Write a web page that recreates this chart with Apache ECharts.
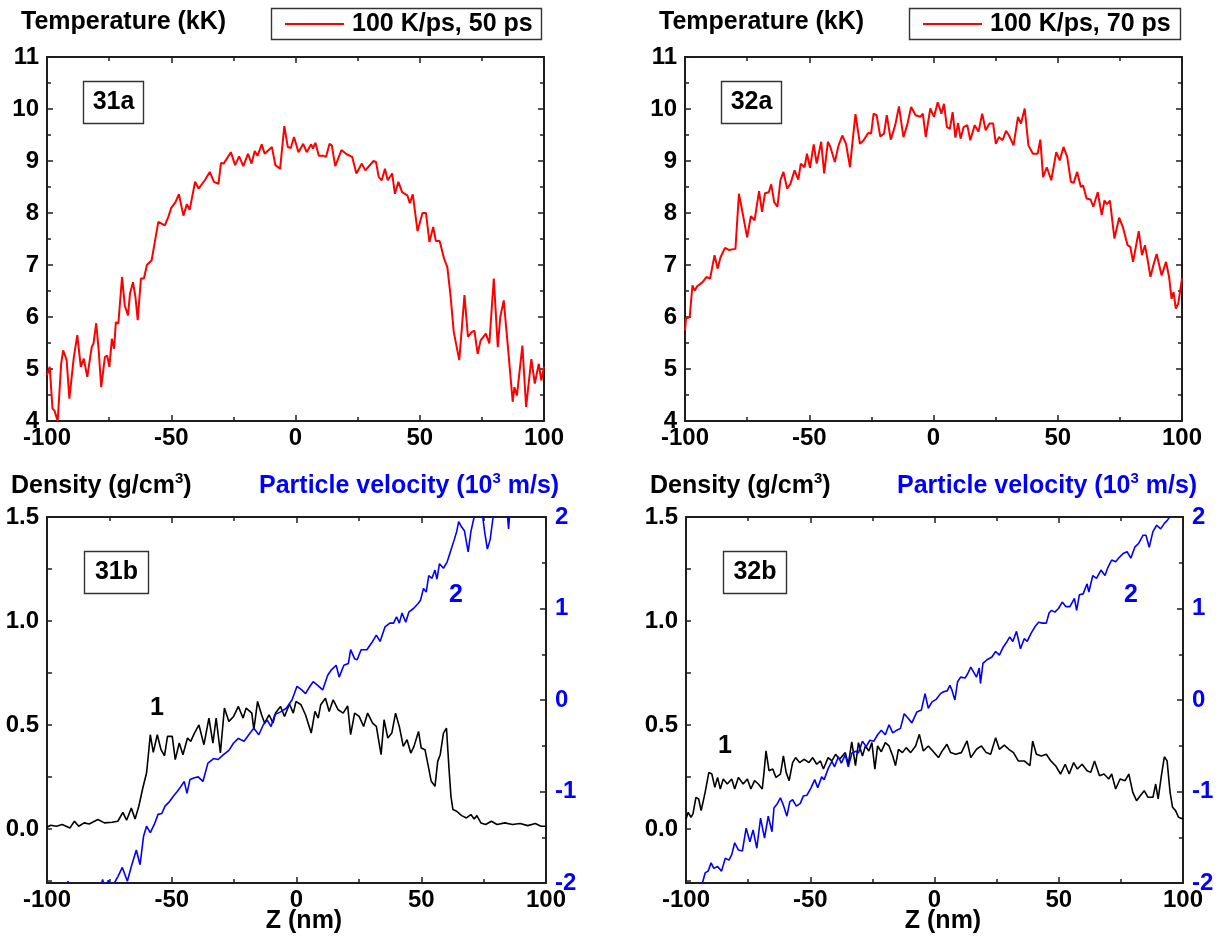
<!DOCTYPE html>
<html><head><meta charset="utf-8">
<script src="https://cdn.jsdelivr.net/npm/echarts@6/dist/echarts.min.js"></script>
<style>html,body{margin:0;padding:0;background:#fff}#c{width:1220px;height:940px}</style>
</head><body><div id="c"></div>
<script>
// ---- Data (Z in nm) ----
const zT31 = [-100,-98.9,-97.8,-97,-95.7,-94.3,-93.5,-92.1,-91,-89.2,-87.8,-86.4,-85.2,-83.8,-82,-81.3,-80.2,-79.2,-78.2,-76.7,-75.8,-74.9,-73.9,-73,-72.3,-71.3,-69.8,-68.7,-67.4,-66.6,-65.4,-64.4,-63.5,-62.2,-61,-59.8,-57.9,-55.2,-52.6,-51.2,-50,-48.3,-46.9,-45.1,-43.7,-42.6,-40.4,-39,-36.5,-34.5,-32.8,-31,-30,-28.9,-26,-24.3,-22.7,-21,-19.1,-17.7,-16.4,-15.3,-13.6,-12.4,-9.5,-8.1,-6.2,-4.5,-3.1,-1.9,-0.6,1.2,3.1,4.5,6.3,7,8,9.4,11.3,12.3,13.7,14.6,16,18.5,20.6,22.8,24.5,26.7,28.1,29.2,31.4,32.4,33.5,34.7,36,37.1,38.9,40,41.4,42.9,45,46,47.2,49.1,51.1,52.5,53.9,55.4,56.5,58,59.8,61.1,62.3,63.7,64.4,65.9,68,69.4,70.9,72,73.3,74.5,76.6,78,79.8,81.4,82.4,83.8,85.3,86.1,87.4,88.1,89.1,91.3,92.8,94.9,96.3,97.9,98.9,100];
const temp31 = [4.88,5.04,4.24,4.2,4.0,5.1,5.36,5.17,4.43,5.23,5.65,5.04,5.2,4.85,5.42,5.49,5.88,5.36,4.65,5.23,5.26,5.04,5.58,5.39,5.9,5.87,6.77,6.22,6.03,6.45,6.67,6.38,5.94,6.74,6.74,7.0,7.09,7.83,7.76,7.92,8.1,8.21,8.36,7.95,8.17,8.06,8.6,8.47,8.63,8.79,8.6,8.56,8.96,8.95,9.17,8.92,9.09,8.9,9.14,8.95,9.19,9.1,9.32,9.14,9.27,8.92,8.85,9.67,9.27,9.25,9.46,9.17,9.33,9.17,9.32,9.24,9.35,9.1,9.1,9.08,9.33,9.3,8.9,9.21,9.13,9.08,8.76,8.95,8.82,8.88,9.0,8.98,8.69,8.63,8.85,8.63,8.76,8.37,8.6,8.4,8.34,8.19,8.36,7.65,8.0,8.0,7.44,7.73,7.46,7.46,7.12,6.96,6.45,5.71,5.68,5.17,6.42,5.62,5.71,5.74,5.29,5.55,5.68,5.49,6.74,5.42,6.0,6.32,5.52,5.49,4.37,4.65,4.49,5.45,4.27,5.19,4.72,5.1,4.78,5.04];

const zT32 = [-100,-99.6,-98.8,-98.1,-97,-96.1,-95.1,-92.9,-91.4,-89.9,-88.1,-86.9,-85.7,-83.9,-82.4,-79.7,-78.3,-76.5,-75,-73.5,-72,-70.2,-69,-67.8,-66.3,-65.3,-64.1,-62.8,-61.6,-60.4,-58.9,-57.6,-55.9,-54.4,-53.4,-51.9,-50.9,-49.7,-48.2,-47,-45.2,-44,-42.5,-41.5,-39.7,-38.2,-36.7,-35.2,-33.6,-32.8,-31.4,-29.6,-28.1,-26.3,-25.1,-24.1,-22.9,-21.4,-19.9,-18.8,-17.2,-15.4,-13.9,-12.1,-10.6,-9,-7.2,-5.3,-4.3,-3.1,-1.3,0.2,1.7,3.2,4.2,5.4,6.6,7.7,8.8,9.9,10.9,12.1,13.6,14.8,16.6,18.1,19.6,21,22.5,24,25.1,26.3,27.8,29.2,30.4,32.2,34,35.2,36.7,38.2,40,41.9,43,44.1,45.6,47.4,49.4,50.8,52.3,53.8,55.3,56.4,57.8,59.3,60.2,61.6,63.2,64.3,66.1,67.7,68.8,69.8,71,72.8,74.7,76.2,78.1,79.2,80.3,82.6,83.9,85.1,86.1,87.3,88.5,89.8,91.8,93.6,94.8,95.8,96.6,97.5,98.5,99.5,100];
const temp32 = [5.74,5.97,5.94,6.0,6.61,6.51,6.59,6.67,6.77,6.74,7.19,6.93,7.15,7.33,7.29,7.31,8.37,7.92,7.53,7.94,7.86,8.42,8.02,8.38,8.4,8.55,8.21,8.12,8.63,8.79,8.47,8.56,8.82,8.64,8.95,8.88,9.14,8.87,9.32,8.95,9.37,8.76,9.37,9.27,8.98,9.3,9.49,9.33,8.88,9.27,9.9,9.33,9.4,9.54,9.53,9.91,9.88,9.47,9.53,9.88,9.41,9.69,10.05,9.46,9.69,10.04,9.88,9.85,9.91,9.46,10.01,9.85,10.13,9.91,10.1,9.65,9.62,9.94,9.45,9.73,9.43,9.65,9.69,9.4,9.69,9.56,9.91,9.59,9.72,9.72,9.33,9.46,9.4,9.58,9.49,9.3,9.85,9.72,10.01,9.3,9.14,9.14,9.41,8.69,8.88,8.63,9.17,9.01,9.27,9.08,8.6,8.58,8.79,8.5,8.53,8.28,8.26,8.12,8.4,7.96,8.24,8.17,8.24,7.51,7.91,7.73,7.38,7.35,7.06,7.65,7.19,7.38,7.12,6.77,7.0,7.21,6.8,7.06,6.77,6.35,6.48,6.16,6.26,6.58,6.74];

const zD31 = [-100,-98.5,-96.2,-93.9,-90.8,-89,-87.3,-85.1,-83.1,-79.6,-77,-73.9,-71.6,-69.6,-68.1,-66.2,-64.7,-63.2,-61.6,-60.1,-59.3,-58.6,-57.4,-55.8,-54.3,-52.9,-51.7,-49.8,-48.6,-47,-45.5,-43.7,-42.4,-40.9,-39.1,-37.1,-35.1,-33.5,-32.2,-30.5,-28.9,-27.1,-25.2,-23.3,-21.4,-20.2,-17.9,-17.1,-15.6,-14,-12.8,-11,-9.4,-8.4,-6.4,-4.8,-2.8,-1.3,-0.2,1.8,3.6,5.9,7.4,8.7,9.7,11.6,13.1,14.7,16.7,18.7,20.5,21.7,23.3,25.1,26.9,28.5,30.5,32,33.9,35.1,36.6,38.2,39.7,41.2,42.8,44.3,45.8,47.1,48.9,50,51.5,52.7,54,55.5,56.6,57.6,58.9,60.1,61.2,61.9,62.7,64.2,66.2,68.1,69.9,71.2,72.3,73.9,75.8,78.1,80.4,83.5,86.5,89.6,92.7,95.7,98,100];
const dens31 = [0.008,0.018,0.013,0.021,0.005,0.037,0.013,0.029,0.024,0.045,0.029,0.032,0.037,0.08,0.042,0.1,0.048,0.109,0.197,0.269,0.365,0.453,0.368,0.453,0.381,0.352,0.445,0.445,0.333,0.413,0.357,0.437,0.421,0.461,0.5,0.405,0.533,0.413,0.533,0.365,0.581,0.517,0.541,0.589,0.533,0.581,0.557,0.477,0.613,0.549,0.509,0.549,0.509,0.557,0.589,0.541,0.601,0.557,0.613,0.597,0.549,0.461,0.565,0.533,0.597,0.628,0.565,0.621,0.573,0.557,0.592,0.453,0.557,0.541,0.493,0.557,0.509,0.493,0.357,0.525,0.437,0.461,0.557,0.493,0.397,0.429,0.365,0.397,0.469,0.389,0.381,0.309,0.229,0.205,0.325,0.357,0.461,0.485,0.277,0.157,0.093,0.085,0.064,0.053,0.069,0.048,0.064,0.029,0.021,0.037,0.021,0.029,0.021,0.026,0.016,0.026,0.013,0.013];

const zV31 = [-100,-93,-91.6,-90.3,-80,-77.7,-76.8,-75.4,-74.2,-73,-71.6,-69.8,-67.8,-66.2,-64.2,-62.7,-61.3,-60.1,-58.6,-57,-55.5,-54,-52.7,-50.9,-49.3,-47.8,-46.7,-45,-43.9,-42.7,-40.9,-39.4,-37.5,-35.5,-33.2,-31.4,-29.4,-27.1,-25.2,-23.3,-21,-18.6,-17.1,-15.1,-13.3,-11.7,-10.2,-8.7,-6.4,-4.1,-1.8,0.2,2.1,3.6,5.4,6.7,8.5,10.5,12.5,14,15.9,17.1,19,20.8,21.7,23.3,24.3,25.9,28.2,30.5,32,33.5,35.5,37.4,38.9,40.1,41.2,42.3,43.8,45,46.9,48.6,49.7,50.9,52,53,54.3,55.5,56.3,57.3,58.9,60.4,61.9,63.2,64.2,65,66.2,67.3,68.8,69.9,71.2,72.4,73.4,74.5,75.4,76.5,77.6,78.8,79.6,82,84.3,85,85.6,90,100];
const vel31 = [-2.4,-2.15,-1.98,-2.2,-2.2,-1.96,-2.08,-1.97,-2.1,-2.0,-1.93,-1.83,-1.98,-1.82,-1.64,-1.8,-1.49,-1.38,-1.45,-1.36,-1.25,-1.24,-1.16,-1.11,-1.05,-1.0,-0.96,-0.89,-1.02,-0.87,-0.85,-0.84,-0.89,-0.69,-0.64,-0.65,-0.6,-0.55,-0.47,-0.42,-0.45,-0.36,-0.31,-0.38,-0.27,-0.22,-0.29,-0.16,-0.13,-0.09,0.0,0.15,0.11,0.07,0.15,0.2,0.16,0.11,0.27,0.33,0.38,0.25,0.38,0.4,0.55,0.45,0.44,0.55,0.55,0.64,0.71,0.64,0.8,0.84,0.84,0.91,0.84,0.95,0.85,0.96,1.0,1.05,1.09,1.22,1.18,1.36,1.33,1.42,1.32,1.49,1.44,1.51,1.64,1.75,1.84,1.95,1.89,1.85,1.62,1.84,2.0,2.05,2.1,2.03,1.84,1.65,1.75,2.0,2.1,2.15,2.1,1.87,2.1,2.3,2.5];

const zD32 = [-100,-99.1,-98,-97.2,-96,-94.9,-93.9,-92.3,-90.8,-89.6,-88.4,-87.3,-86.2,-85,-83.4,-81.6,-80.4,-78.9,-77,-75.3,-73.9,-72.4,-70.9,-69.3,-68.6,-67.8,-66.6,-65.1,-63.8,-62,-60.8,-59.7,-58.5,-57.1,-55.9,-54.3,-52.5,-50.5,-49,-47.4,-45.9,-44.7,-42.8,-41.3,-39.8,-38.2,-35.9,-34.7,-33.3,-31.8,-30.6,-29,-27.8,-26.4,-25.2,-24,-22.9,-21.4,-19.8,-18.3,-16.8,-15.7,-14.5,-12.9,-11.4,-9.6,-7.6,-6.1,-4.5,-2.5,-0.7,1.6,3.1,5,6.5,8.5,10.8,13.1,14.6,16.9,18.9,20.8,22.6,24.6,26.1,28.1,29.9,31.8,33.7,36.1,38.4,39.5,41,43,45,46.8,48.7,50.7,52.6,54.2,56,57.5,59.4,61.4,62.9,64.4,66.4,68.2,70.1,71.3,72.9,74.7,76.7,78.2,79.8,81.3,82.8,84.4,85.9,87.9,89,90,91.3,92.5,93.6,94.8,95.8,97,98.2,100];
const dens32 = [0.048,0.08,0.056,0.072,0.152,0.144,0.088,0.176,0.272,0.264,0.2,0.248,0.192,0.24,0.216,0.24,0.192,0.248,0.216,0.24,0.192,0.232,0.216,0.192,0.272,0.375,0.28,0.288,0.248,0.264,0.351,0.272,0.232,0.319,0.343,0.319,0.335,0.319,0.343,0.311,0.327,0.288,0.343,0.327,0.359,0.335,0.367,0.311,0.419,0.304,0.415,0.351,0.399,0.375,0.415,0.288,0.399,0.371,0.415,0.399,0.351,0.304,0.383,0.367,0.391,0.367,0.399,0.455,0.375,0.399,0.375,0.343,0.375,0.407,0.367,0.359,0.367,0.423,0.343,0.383,0.399,0.367,0.359,0.439,0.383,0.403,0.383,0.367,0.327,0.327,0.304,0.423,0.359,0.351,0.359,0.327,0.304,0.264,0.311,0.264,0.319,0.288,0.311,0.28,0.272,0.327,0.256,0.264,0.24,0.264,0.192,0.24,0.232,0.264,0.176,0.136,0.16,0.184,0.152,0.152,0.216,0.144,0.256,0.347,0.327,0.176,0.104,0.088,0.056,0.048];

const zV32 = [-100,-95,-93.4,-92.3,-91.1,-89.9,-88.8,-87.3,-85.7,-84.2,-82.7,-81.6,-80.4,-78.9,-77.3,-75.8,-74.3,-73,-71.5,-70,-68.4,-66.9,-65.4,-64.6,-63.2,-62,-60.8,-59.4,-58.2,-57.1,-55.6,-54,-52.8,-51.3,-49.7,-48.2,-47,-45.4,-44.4,-42.8,-41.3,-40.2,-38.7,-37.5,-35.9,-34.7,-33.2,-31.6,-30.6,-29,-27.5,-26,-24.4,-22.9,-21.4,-19.8,-18.3,-16.8,-15.2,-13.7,-12.2,-10.6,-9.1,-7.1,-5.3,-3.8,-2.5,-1,0.8,2.4,3.6,5.1,6.2,7,8.2,9.3,10.5,12.3,13.4,14.6,15.4,16.9,18,18.5,19.5,21.1,23.1,24.6,26.1,27.7,29.2,30.3,31.5,33,34.6,36.1,37.3,38.9,40.4,41.9,43.4,45,46.1,47.1,48.4,49.9,51.4,52.9,54.5,56.3,57.2,58.3,59.8,61.4,62.1,63.7,65.2,67,68.6,69.8,71.3,72.9,74.4,75.9,77.5,79,80.6,82.1,83.9,85.1,86.4,87.9,89.4,91,92.5,93.6,94.6,96,100];
const vel32 = [-2.4,-2.1,-2.0,-1.89,-1.87,-1.78,-1.84,-1.82,-1.87,-1.73,-1.75,-1.69,-1.56,-1.64,-1.65,-1.4,-1.55,-1.42,-1.62,-1.29,-1.51,-1.27,-1.44,-1.18,-1.13,-1.07,-1.15,-1.27,-1.11,-1.09,-1.16,-1.13,-1.05,-1.04,-0.96,-0.87,-0.96,-0.84,-0.87,-0.75,-0.67,-0.73,-0.62,-0.69,-0.6,-0.73,-0.58,-0.56,-0.58,-0.45,-0.51,-0.44,-0.45,-0.38,-0.33,-0.38,-0.27,-0.36,-0.33,-0.31,-0.15,-0.2,-0.25,-0.13,-0.11,0.07,-0.09,-0.02,0.01,0.07,0.09,0.1,0.16,0.11,0.0,0.2,0.25,0.24,0.29,0.36,0.37,0.25,0.35,0.18,0.4,0.44,0.47,0.53,0.49,0.58,0.64,0.69,0.64,0.75,0.56,0.67,0.64,0.73,0.8,0.85,0.84,0.84,0.95,0.98,0.96,1.0,1.07,1.02,1.02,1.11,0.98,1.15,1.16,1.27,1.18,1.36,1.33,1.42,1.36,1.45,1.53,1.51,1.56,1.6,1.62,1.55,1.67,1.71,1.8,1.8,1.67,1.84,1.91,1.87,1.93,1.96,2.0,2.1,2.3];

const zTicks = [-100, 100, 50];           // min, max, step
const tempRange = [4, 11, 1];
const densRange = [-0.26, 1.5];
const densLabels = [0, 0.5, 1, 1.5];
const densTicks = [-0.25, 0, 0.25, 0.5, 0.75, 1, 1.25, 1.5];
const velRange = [-2, 2, 1];
const legendText = ['100 K/ps, 50 ps', '100 K/ps, 70 ps'];
const panelNames = ['31a', '32a', '31b', '32b'];

// ---- Styling ----
const FONT = '"Liberation Sans", Arial, Helvetica, sans-serif';
const AXC = '#1e1e1e';
const RED = '#ff0000', BLUE = '#0000ff', BLACK = '#000000';
const zip = (a, b) => a.map((v, i) => [v, b[i]]);

const AL = {show: true, onZero: false, lineStyle: {color: AXC, width: 2}};
const TK = (len) => ({show: true, inside: true, length: len, lineStyle: {color: AXC, width: 1.5}});
const MT = {show: true, splitNumber: 2, length: 4, lineStyle: {color: AXC, width: 1.5}};
const LBL = (color, margin) => ({show: true, color, fontSize: 24, fontWeight: 'bold', fontFamily: FONT, margin});

const grids = [
  {left: 47, top: 57, width: 497, height: 364},
  {left: 685, top: 57, width: 497, height: 364},
  {left: 47, top: 517, width: 499, height: 366},
  {left: 686, top: 517, width: 497, height: 366}
];

const xAxes = [], yAxes = [], series = [];
grids.forEach((g, i) => {
  const xb = {gridIndex: i, type: 'value', min: zTicks[0], max: zTicks[1], interval: zTicks[2], position: 'bottom',
    axisLine: AL, axisTick: TK(6), minorTick: MT, splitLine: {show: false}, minorSplitLine: {show: false},
    axisLabel: LBL(BLACK, 5)};
  const xt = Object.assign({}, xb, {position: 'top', axisLabel: {show: false}});
  xAxes.push(xb, xt);
});

// top panels
[0, 1].forEach(i => {
  const base = {gridIndex: i, type: 'value', min: tempRange[0], max: tempRange[1], interval: tempRange[2],
    axisLine: AL, axisTick: TK(6), minorTick: MT, splitLine: {show: false}, minorSplitLine: {show: false}};
  yAxes.push(Object.assign({}, base, {position: 'left', axisLabel: LBL(BLACK, 8)}));
  yAxes.push(Object.assign({}, base, {position: 'right', axisLabel: {show: false}}));
});
// bottom panels
[2, 3].forEach(i => {
  yAxes.push({gridIndex: i, type: 'value', min: densRange[0], max: densRange[1], position: 'left',
    axisLine: AL, axisTick: Object.assign(TK(5), {customValues: densTicks}), splitLine: {show: false},
    axisLabel: Object.assign(LBL(BLACK, 8), {customValues: densLabels, formatter: v => Number(v).toFixed(1)})});
  yAxes.push({gridIndex: i, type: 'value', min: velRange[0], max: velRange[1], interval: velRange[2], position: 'right',
    axisLine: AL, axisTick: TK(6), minorTick: MT, splitLine: {show: false}, minorSplitLine: {show: false},
    axisLabel: Object.assign(LBL(BLUE, 9), {formatter: v => String(v)})});
});

const lineS = (xi, yi, data, color, w) => ({type: 'line', xAxisIndex: xi, yAxisIndex: yi, data, symbol: 'none',
  showSymbol: false, clip: true, animation: false, silent: true, lineStyle: {color, width: w}});

series.push(lineS(0, 0, zip(zT31, temp31), RED, 2));
series.push(lineS(2, 2, zip(zT32, temp32), RED, 2));
series.push(lineS(4, 4, zip(zD31, dens31), BLACK, 1.6));
series.push(lineS(4, 5, zip(zV31, vel31), BLUE, 1.6));
series.push(lineS(6, 6, zip(zD32, dens32), BLACK, 1.6));
series.push(lineS(6, 7, zip(zV32, vel32), BLUE, 1.6));

// ---- Annotations ----
function txt(x, y, text, color, size, align) {
  return {type: 'text', x, y, z: 100, silent: true,
    style: {text, fill: color, font: `bold ${size}px ${FONT}`, align: align || 'left', verticalAlign: 'middle',
      textAlign: align || 'left', textVerticalAlign: 'middle'}};
}
function richTxt(x, y, parts, color) {
  return {type: 'text', x, y, z: 100, silent: true,
    style: {text: `{a|${parts[0]}}{s|3}{a|${parts[1]}}`, align: 'left', verticalAlign: 'middle',
      textAlign: 'left', textVerticalAlign: 'middle',
      rich: {a: {fontSize: 25, fontWeight: 'bold', fontFamily: FONT, fill: color, lineHeight: 30},
             s: {fontSize: 15, fontWeight: 'bold', fontFamily: FONT, fill: color, lineHeight: 14, verticalAlign: 'top'}}}};
}
function box(x, y, w, h) {
  return {type: 'rect', z: 90, silent: true, shape: {x, y, width: w, height: h},
    style: {fill: '#fff', stroke: '#333', lineWidth: 1.4}};
}
function seg(x1, x2, y, color) {
  return {type: 'line', z: 95, silent: true, shape: {x1, y1: y, x2, y2: y}, style: {stroke: color, lineWidth: 2}};
}

const graphic = [
  txt(21, 22, 'Temperature (kK)', BLACK, 25),
  txt(659, 22, 'Temperature (kK)', BLACK, 25),
  box(271.5, 8.5, 270, 31), seg(285, 344, 24, RED), txt(352, 24, legendText[0], BLACK, 25),
  box(909.5, 8.5, 271, 31), seg(923, 982, 24, RED), txt(990, 24, legendText[1], BLACK, 25),
  box(83.5, 81.5, 60, 42), txt(113.5, 102.5, panelNames[0], BLACK, 25, 'center'),
  box(721.5, 81.5, 60, 42), txt(751.5, 102.5, panelNames[1], BLACK, 25, 'center'),
  box(84.5, 551.5, 64, 42), txt(116.5, 572.5, panelNames[2], BLACK, 25, 'center'),
  box(723.5, 551.5, 63, 42), txt(755, 572.5, panelNames[3], BLACK, 25, 'center'),
  richTxt(11, 486, ['Density (g/cm', ')'], BLACK),
  richTxt(650, 486, ['Density (g/cm', ')'], BLACK),
  richTxt(259, 486, ['Particle velocity (10', ' m/s)'], BLUE),
  richTxt(897, 486, ['Particle velocity (10', ' m/s)'], BLUE),
  txt(304, 921, 'Z (nm)', BLACK, 25, 'center'),
  txt(943, 921, 'Z (nm)', BLACK, 25, 'center'),
  txt(157, 708, '1', BLACK, 25, 'center'),
  txt(456, 595, '2', BLUE, 25, 'center'),
  txt(725, 746, '1', BLACK, 25, 'center'),
  txt(1131, 595, '2', BLUE, 25, 'center')
];

const chart = echarts.init(document.getElementById('c'), null, {renderer: 'canvas'});
chart.setOption({
  backgroundColor: '#ffffff',
  animation: false,
  grid: grids,
  xAxis: xAxes,
  yAxis: yAxes,
  series,
  graphic
});
</script>
</body></html>
